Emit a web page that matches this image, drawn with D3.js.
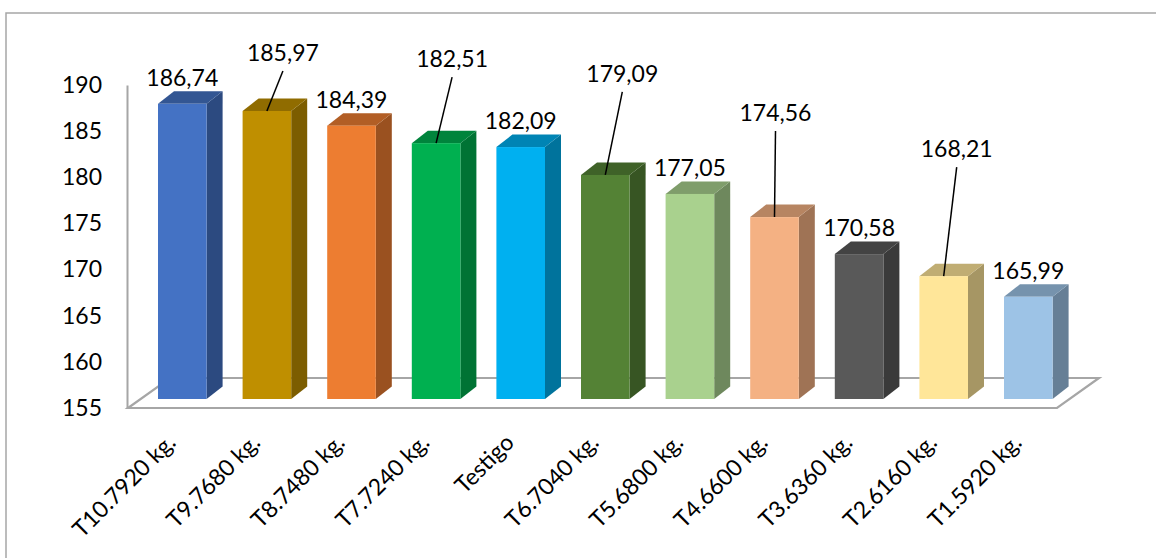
<!DOCTYPE html>
<html>
<head>
<meta charset="utf-8">
<script src="https://cdn.jsdelivr.net/npm/d3@7"></script>
<style>
  html, body { margin: 0; padding: 0; background: #fff; }
  svg { display: block; font-family: Lato, "Noto Sans", sans-serif; }
</style>
</head>
<body>
<svg id="chart" width="1156" height="558"></svg>
<script>
// Treatments and their measured values
const categories = ["T10.7920 kg.", "T9.7680 kg.", "T8.7480 kg.", "T7.7240 kg.", "Testigo",
  "T6.7040 kg.", "T5.6800 kg.", "T4.6600 kg.", "T3.6360 kg.", "T2.6160 kg.", "T1.5920 kg."];
const values = [186.74, 185.97, 184.39, 182.51, 182.09, 179.09, 177.05, 174.56, 170.58, 168.21, 165.99];
const yTicks = [155, 160, 165, 170, 175, 180, 185, 190];

// Bar front colours
const colors = ["#4472C4", "#BF8F00", "#ED7D31", "#00B050", "#00B0F0", "#548235",
  "#A9D18E", "#F4B183", "#595959", "#FFE699", "#9DC3E6"];

// Labels that sit away from their bar with a leader line: [dx, dy] from the bar's top centre
const labelOffsets = [null, [16, -58], null, [16, -84], null, [17, -101], null, [1, -104], null, [13, -127], null];

const svg = d3.select("#chart");
const W = 1156, H = 558;

// Outer frame
svg.append("rect")
  .attr("x", 6).attr("y", 13).attr("width", W + 20).attr("height", H + 20)
  .attr("fill", "none").attr("stroke", "#A6A6A6").attr("stroke-width", 1.5);

// 3D geometry
const floor = { left: 128, right: 1057, front: 408, dx: 42, dy: 30 };
const depth = { dx: 16, dy: 12.5 };

const x = d3.scaleBand().domain(categories).range([140, 1070.6]).paddingInner(0.4255).paddingOuter(0.2128);
const yBar = d3.scaleLinear().domain([155, 190]).range([399, 73.5]);
const yAxisScale = d3.scaleLinear().domain([155, 190]).range([floor.front, 85]);

const fmt = d3.formatLocale({ decimal: ",", thousands: ".", grouping: [3], currency: ["", ""] }).format(".2f");

// Floor
svg.append("path")
  .attr("d", d3.line()([
    [floor.left, floor.front],
    [floor.right, floor.front],
    [floor.right + floor.dx, floor.front - floor.dy],
    [floor.left + floor.dx, floor.front - floor.dy]
  ]) + "Z")
  .attr("fill", "#fff").attr("stroke", "#A6A6A6").attr("stroke-width", 2.2);

// Value axis
const axisG = svg.append("g")
  .attr("transform", `translate(${floor.left - 1},0)`)
  .call(d3.axisLeft(yAxisScale).tickValues(yTicks).tickSize(0).tickPadding(25).tickFormat(d3.format("d")));
axisG.select(".domain").attr("stroke", "#A6A6A6").attr("stroke-width", 2);
axisG.selectAll("text").attr("font-size", 23).attr("fill", "#000").attr("font-family", "Lato, sans-serif");

// Bars
const bw = x.bandwidth();
const base = yBar(155);
const bars = svg.append("g").selectAll("g").data(values).join("g");

bars.each(function (v, i) {
  const g = d3.select(this);
  const x0 = x(categories[i]);
  const top = yBar(v);
  const c = d3.color(colors[i]);
  // side face
  g.append("path")
    .attr("d", d3.line()([[x0 + bw, top], [x0 + bw + depth.dx, top - depth.dy],
      [x0 + bw + depth.dx, base - depth.dy], [x0 + bw, base]]) + "Z")
    .attr("fill", c.darker(1.2).formatHex());
  // top face
  g.append("path")
    .attr("d", d3.line()([[x0, top], [x0 + depth.dx, top - depth.dy],
      [x0 + bw + depth.dx, top - depth.dy], [x0 + bw, top]]) + "Z")
    .attr("fill", c.darker(0.8).formatHex());
  // front face
  g.append("rect")
    .attr("x", x0).attr("y", top).attr("width", bw).attr("height", base - top)
    .attr("fill", colors[i]);
});

// Value labels
const labels = svg.append("g").attr("font-size", 23).attr("fill", "#000");
values.forEach((v, i) => {
  const cx = x(categories[i]) + bw / 2;
  const top = yBar(v);
  const off = labelOffsets[i];
  if (off) {
    const lx = cx + off[0], ly = top + off[1];
    labels.append("line")
      .attr("x1", lx).attr("y1", ly + 18).attr("x2", cx).attr("y2", top)
      .attr("stroke", "#000").attr("stroke-width", 1.5);
    labels.append("text")
      .attr("x", lx).attr("y", ly + 8).attr("text-anchor", "middle").text(fmt(v));
  } else {
    labels.append("text")
      .attr("x", cx).attr("y", top - 18).attr("text-anchor", "middle").text(fmt(v));
  }
});

// Category labels
svg.append("g").selectAll("text").data(categories).join("text")
  .attr("transform", d => `translate(${x(d) + 19},444) rotate(-45)`)
  .attr("text-anchor", "end")
  .attr("font-size", 23)
  .attr("fill", "#000")
  .text(d => d);
</script>
</body>
</html>
